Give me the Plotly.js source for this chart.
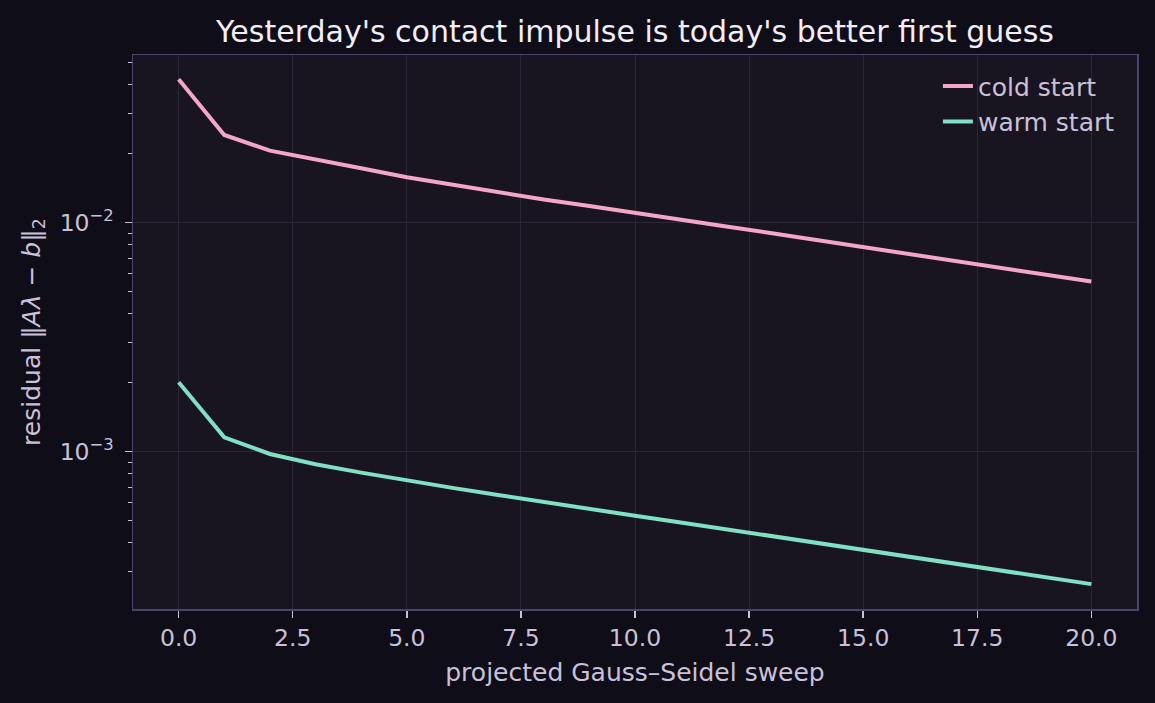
<!DOCTYPE html>
<html>
<head>
<meta charset="utf-8">
<script src="https://cdn.plot.ly/plotly-3.0.1.min.js"></script>
<style>
  html, body { margin: 0; padding: 0; background: #0f0d17; }
  #plot { width: 1155px; height: 703px; }
</style>
</head>
<body>
<div id="plot"></div>
<script>
// sweep index and residual per sweep
const sweeps = [0, 1, 2, 3, 4, 5, 6, 7, 8, 9, 10, 11, 12, 13, 14, 15, 16, 17, 18, 19, 20];
const coldStart = [0.0423, 0.02415, 0.02063, 0.01879, 0.01728, 0.01578, 0.01461, 0.01352, 0.01262,
    0.01182, 0.01107, 0.01033, 0.00963, 0.00899, 0.00839, 0.00782, 0.0073, 0.00681, 0.00635, 0.00593, 0.00553];
const warmStart = [0.00201, 0.001156, 0.000977, 0.000881, 0.00081, 0.000749, 0.000695, 0.000647, 0.000602,
    0.000562, 0.000525, 0.000491, 0.000458, 0.000428, 0.000399, 0.000372, 0.000347, 0.000324, 0.000302, 0.000282, 0.000264];

const yMajor = [0.001, 0.01];
const yMajorText = ["10<sup>\u22123</sup>", "10<sup>\u22122</sup>"];
const yMinor = [0.0003, 0.0004, 0.0005, 0.0006, 0.0007, 0.0008, 0.0009,
    0.002, 0.003, 0.004, 0.005, 0.006, 0.007, 0.008, 0.009, 0.02, 0.03, 0.04, 0.05];

const font = "DejaVu Sans, sans-serif";
const tickColor = "#c9c1d9";

let traces = [
    {
        x: sweeps, y: coldStart, name: "cold start",
        type: "scatter", mode: "lines",
        line: { color: "#f4a6c8", width: 4 }
    },
    {
        x: sweeps, y: warmStart, name: "warm start",
        type: "scatter", mode: "lines",
        line: { color: "#7fe0c3", width: 4 }
    }
];

let layout = {
    width: 1155, height: 703,
    paper_bgcolor: "#0f0d17",
    plot_bgcolor: "#181520",
    margin: { l: 133, r: 18, t: 55, b: 94 },
    font: { family: font, color: tickColor, size: 23 },
    title: {
        text: "Yesterday's contact impulse is today's better first guess",
        font: { family: font, color: "#f2eef9", size: 30 },
        x: 0.5, xref: "paper", y: 0.955, yref: "container", yanchor: "middle"
    },
    xaxis: {
        range: [-1, 21],
        tickmode: "linear", tick0: 0, dtick: 2.5, tickformat: ".1f",
        ticks: "outside", ticklen: 7, tickwidth: 1.5, tickcolor: tickColor,
        tickfont: { size: 23.5, color: tickColor },
        showgrid: true, gridcolor: "#2b2638", gridwidth: 1,
        zeroline: false,
        showline: true, linecolor: "#4d4269", linewidth: 1.5, mirror: true,
        title: { text: "projected Gauss\u2013Seidel sweep", font: { size: 25, color: tickColor }, standoff: 13 }
    },
    yaxis: {
        type: "log",
        range: [-3.687, -1.2677],
        tickmode: "array", tickvals: yMajor, ticktext: yMajorText,
        ticks: "outside", ticklen: 7, tickwidth: 1.5, tickcolor: tickColor,
        tickfont: { size: 23.5, color: tickColor },
        ticklabelstandoff: 6,
        minor: { tickmode: "array", tickvals: yMinor, ticks: "outside", ticklen: 4, tickwidth: 1, tickcolor: tickColor, showgrid: false },
        showgrid: true, gridcolor: "#2b2638", gridwidth: 1,
        zeroline: false,
        showline: true, linecolor: "#4d4269", linewidth: 1.5, mirror: true,
        title: { text: "residual \u2016<i>A\u03bb</i> \u2212 <i>b</i>\u2016<sub>2</sub>", font: { size: 25, color: tickColor }, standoff: 12 }
    },
    legend: {
        x: 0.983, y: 0.985, xanchor: "right", yanchor: "top",
        bgcolor: "rgba(0,0,0,0)",
        font: { size: 25, color: tickColor },
        tracegroupgap: 6
    },
    showlegend: true
};

Plotly.newPlot("plot", traces, layout, { displayModeBar: false, staticPlot: true });
</script>
</body>
</html>
